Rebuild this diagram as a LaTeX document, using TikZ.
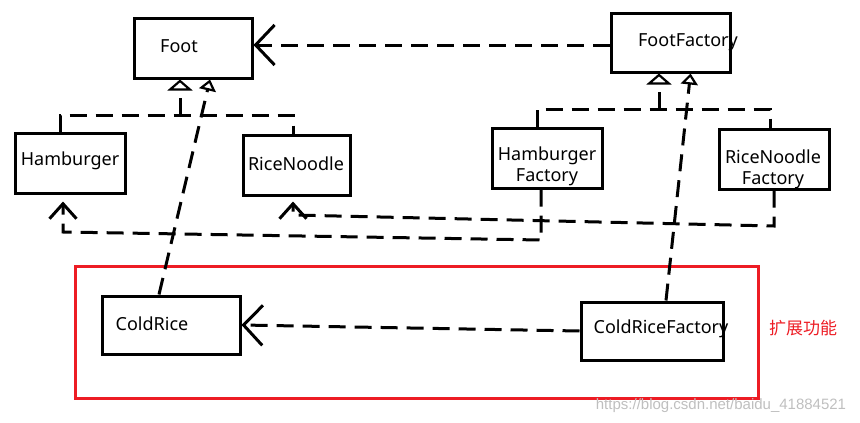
\documentclass[tikz,border=0pt]{standalone}
\usepackage{fontspec}
\setmainfont{Noto Sans}
\newfontfamily\cjkfont{Noto Sans CJK SC}
\newfontfamily\wmfont{Liberation Sans}
\usetikzlibrary{arrows.meta}

\definecolor{extred}{RGB}{237,28,36}
\tikzset{
  box/.style 2 args={draw, line width=3pt, minimum width=#1, minimum height=#2},
  txt/.style={inner sep=0pt, font=\fontsize{18}{21}\selectfont, align=center},
  dep/.style={line width=3pt, dash pattern=on 17pt off 9pt},
  barb/.style={-{Straight Barb[length=19pt,width=40pt]}},
  smallbarb/.style={-{Straight Barb[length=15pt,width=27pt]}},
  tri/.style={-{Triangle[open,length=11pt,width=25pt,line width=2.2pt]}},
  smalltri/.style={-{Triangle[open,length=11pt,width=17pt,line width=2.2pt]}}
}

\begin{document}
\begin{tikzpicture}[x=1pt,y=-1pt]
    \useasboundingbox (0,0) rectangle (860,423);

    \node[box={118pt}{60pt}](foot) at (193,48) {};           % Foot
    \node[box={119pt}{59pt}](ff) at (670.5,42.5) {};         % FootFactory
    \node[box={110pt}{60pt}](hb) at (70,163) {};             % Hamburger
    \node[box={107pt}{60pt}](rn) at (296.5,165) {};          % RiceNoodle
    \node[box={110pt}{60pt}](hf) at (547,158) {};            % HamburgerFactory
    \node[box={110pt}{60pt}](rnf) at (774,159) {};           % RiceNoodleFactory
    \node[box={138pt}{58pt}](cr) at (171,325) {};            % ColdRice
    \node[box={142pt}{58pt}](crf) at (652,331) {};           % ColdRiceFactory

    \node[txt](footTxt) at (179,46) {Foot};
    \node[txt](ffTxt) at (688,42) {FootFactory};
    \node[txt](hbTxt) at (70,161) {Hamburger};
    \node[txt](rnTxt) at (296,164) {RiceNoodle};
    \node[txt](hfTxt) at (547,166) {Hamburger\\Factory};
    \node[txt](rnfTxt) at (773,169) {RiceNoodle\\Factory};
    \node[txt](crTxt) at (152,324) {ColdRice};
    \node[txt](crfTxt) at (661,329) {ColdRiceFactory};

    % extension
    \draw[extred, line width=3pt] (75,266) rectangle (758,398);
    \node[txt, text=extred, font=\cjkfont\fontsize{17}{20}\selectfont](ext) at (803,328) {扩展功能};
    \node[inner sep=0pt, text=black!25, font=\wmfont\fontsize{15}{17}\selectfont](wm) at (721,406) {https://blog.csdn.net/baidu\_41884521};

    % FootFactory -> Foot
    \draw[dep, barb] (ff.west |- 0,45) -- (foot.east |- 0,45);

    % Hamburger, RiceNoodle -> Foot
    \coordinate (fj) at (180,115);
    \draw[dep] ([xshift=-10pt]hb.north) |- (fj) -| ([xshift=-3.5pt]rn.north);
    \draw[dep, tri] (fj) -- (fj |- foot.south);
    \draw[dep, smalltri] ([xshift=-12pt]cr.north) -- ([xshift=17pt]foot.south);

    % factories -> FootFactory
    \coordinate (ffj) at (659,109);
    \draw[dep] ([xshift=-10pt]hf.north) |- (ffj) -| ([xshift=-4pt]rnf.north);
    \draw[dep, tri] (ffj) -- (ffj |- ff.south);
    \draw[dep, smalltri] ([xshift=14pt]crf.north) -- ([xshift=20pt]ff.south);

    % products
    \coordinate (hfb) at (541,240);
    \coordinate (hbb) at (63,232);
    \draw[dep, smallbarb] ([xshift=-6pt]hf.south) -- (hfb) -- (hbb) -- ([xshift=-7pt,yshift=-7pt]hb.south);
    \coordinate (rnfb) at (774,226);
    \coordinate (rnb) at (293,215);
    \draw[dep, smallbarb] (rnf.south) -- (rnfb) -- (rnb) -- ([xshift=-3.5pt,yshift=-5pt]rn.south);
    \draw[dep, barb] (crf.west) -- (cr.east);

\end{tikzpicture}
\end{document}
